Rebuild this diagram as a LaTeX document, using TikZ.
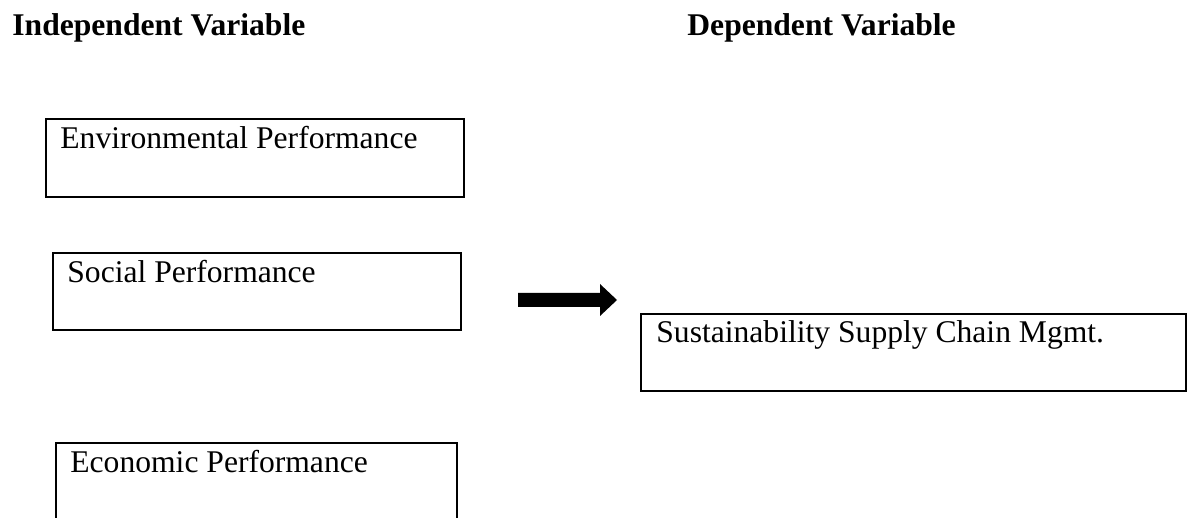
\documentclass[tikz,border=0pt]{standalone}
\usepackage{fontspec}
\setmainfont{Liberation Serif}
\begin{document}
\begin{tikzpicture}[x=0.5pt,y=-0.5pt,
  box/.style={draw, line width=1pt, rectangle, inner sep=0pt, anchor=north west},
  lbl/.style={anchor=base west, inner sep=0pt, font=\fontsize{15.8}{19}\selectfont},
  headlbl/.style={anchor=base west, inner sep=0pt, font=\fontsize{15.8}{19}\selectfont\bfseries}]
\useasboundingbox (0,0) rectangle (1190,518);
\clip (0,0) rectangle (1190,518);
% headings
\node[headlbl] (indep) at (12,36) {Independent Variable};
\node[headlbl] (dep) at (687,36) {Dependent Variable};
% boxes
\node[box, minimum width=209pt, minimum height=39pt] (env) at (45,118) {};
\node[box, minimum width=204pt, minimum height=38.5pt] (soc) at (52,252) {};
\node[box, minimum width=200.5pt, minimum height=50pt] (eco) at (55,442) {};
\node[box, minimum width=272.5pt, minimum height=38.5pt] (sscm) at (640,313) {};
% labels
\node[lbl] (envt) at (60,149) {Environmental Performance};
\node[lbl] (soct) at (67,283) {Social Performance};
\node[lbl] (ecot) at (70,473) {Economic Performance};
\node[lbl] (sscmt) at (656,343) {Sustainability Supply Chain Mgmt.};
% block arrow
\fill (518,293) -- (600,293) -- (600,284) -- (617,300) -- (600,316) -- (600,307) -- (518,307) -- cycle;
\end{tikzpicture}
\end{document}
